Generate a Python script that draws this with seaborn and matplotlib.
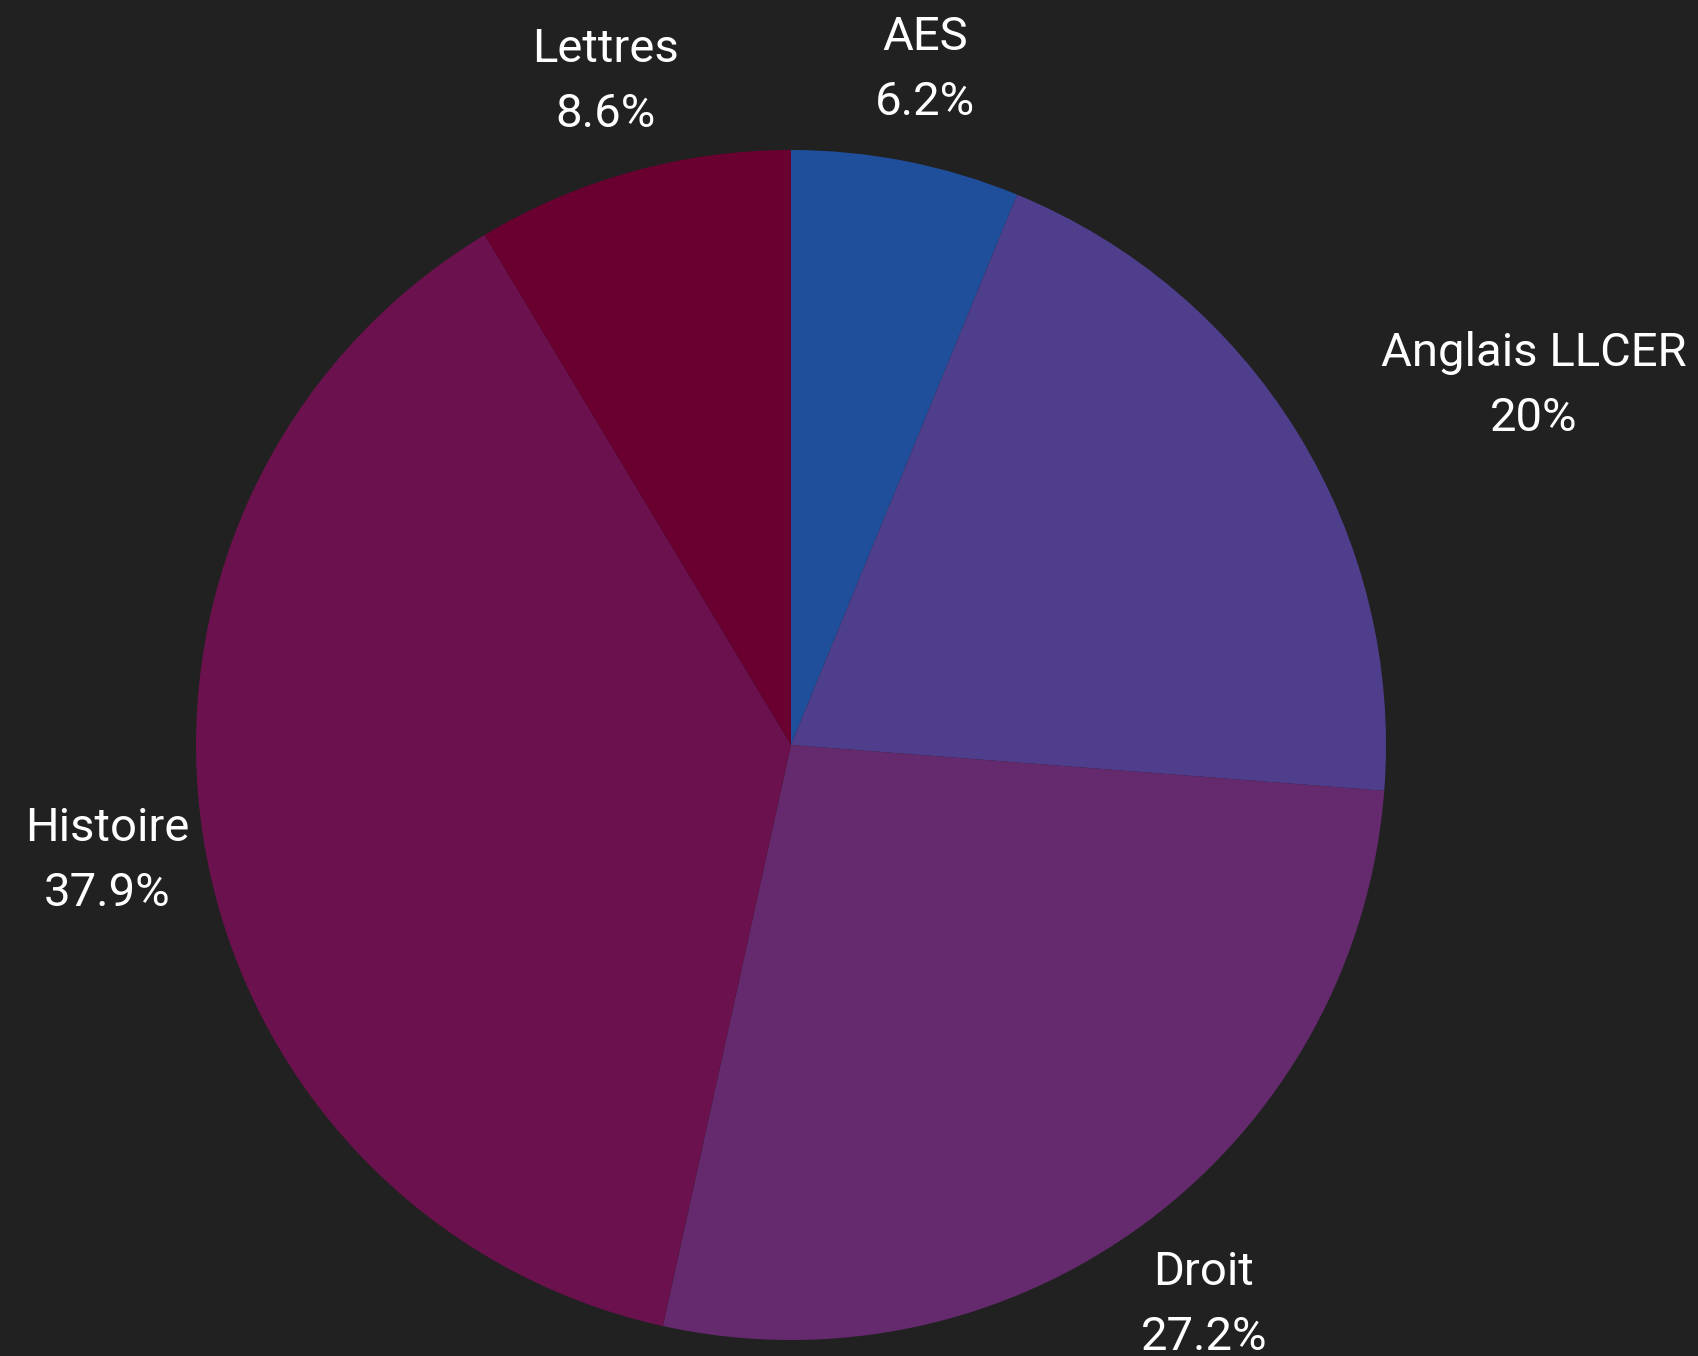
import matplotlib
matplotlib.use("Agg")
import matplotlib.pyplot as plt
import seaborn as sns

# Data
filieres = ["AES", "Anglais LLCER", "Droit", "Histoire", "Lettres"]
parts = [6.2, 20, 27.2, 37.9, 8.6]
couleurs = ["#1f4f9a", "#4f3e8c", "#652a6e", "#6b114d", "#6a0030"]

sns.set_theme(style="dark")
plt.rcParams['font.family'] = ['Roboto', 'DejaVu Sans']

fig = plt.figure(figsize=(16.99, 13.56), dpi=100, facecolor="#212121")
ax = fig.add_axes([0, 0, 1, 1])
ax.set_facecolor("#212121")

labels = [f"{n}\n{p:g}%" for n, p in zip(filieres, parts)]
wedges, texts = ax.pie(parts, labels=labels, colors=sns.color_palette(couleurs),
                       startangle=90, counterclock=False, labeldistance=1.164,
                       wedgeprops=dict(linewidth=0),
                       textprops=dict(color="white", fontsize=34, linespacing=1.6))
for t in texts:
    t.set_horizontalalignment("center")
    t.set_verticalalignment("center")
    t.set_multialignment("center")
    x, y = t.get_position()
    t.set_position((x, y - 0.006))
texts[1].set_horizontalalignment("left")

# centre at (791, 745) px, radius 595 px
ax.set_xlim(-791 / 595, (1699 - 791) / 595)
ax.set_ylim(-(1356 - 745) / 595, 745 / 595)
ax.set_aspect("equal")
ax.axis("off")

plt.savefig("out.png", dpi=100, facecolor="#212121")
